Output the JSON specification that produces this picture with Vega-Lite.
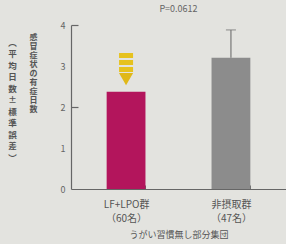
{
  "$schema": "https://vega.github.io/schema/vega-lite/v6.json",
  "width": 215,
  "height": 164,
  "autosize": {"type": "none"},
  "padding": {"left": 71, "top": 25, "right": 0, "bottom": 55},
  "background": "#e3e3df",
  "config": {"view": {"stroke": null}, "font": "Noto Sans CJK JP"},
  "title": {"text": "P=0.0612", "fontSize": 9, "fontWeight": "normal", "color": "#666666", "offset": 7, "anchor": "middle"},
  "data": {"values": [
    {"group": "LF+LPO群|（60名）", "mean": 2.37, "upper": null, "arrow_top": 3.32, "arrow_bottom": 2.85, "arrow_tip": 2.68},
    {"group": "非摂取群|（47名）", "mean": 3.2, "upper": 3.88, "arrow_top": null, "arrow_bottom": null, "arrow_tip": null}
  ]},
  "encoding": {
    "x": {
      "field": "group", "type": "nominal", "sort": null,
      "scale": {"paddingInner": 0.63, "paddingOuter": 0.34},
      "axis": {
        "title": "うがい習慣無し部分集団", "titleFontSize": 9, "titleFontWeight": "normal", "titleColor": "#555555", "titlePadding": 7,
        "labelAngle": 0, "labelExpr": "split(datum.label, '|')", "labelFontSize": 10, "labelColor": "#555555", "labelLineHeight": 14, "labelPadding": 14,
        "tickBand": "extent", "tickSize": -4, "tickColor": "#666666", "domainColor": "#666666", "domainWidth": 1.2
      }
    }
  },
  "layer": [
    {
      "mark": {"type": "bar"},
      "encoding": {
        "y": {
          "field": "mean", "type": "quantitative",
          "scale": {"domain": [0, 4], "nice": false},
          "axis": {
            "orient": "left",
            "values": [0, 1, 2, 3, 4], "ticks": false, "grid": false, "labelPadding": 6, "labelFontSize": 9, "labelColor": "#666666",
            "domainColor": "#666666", "domainWidth": 1.2,
            "title": ["感", "冒", "症", "状", "の", "有", "症", "日", "数"],
            "titleAngle": 0, "titleAlign": "center", "titleBaseline": "top", "titleX": -38, "titleY": 8,
            "titleFontSize": 8, "titleFontWeight": "bold", "titleColor": "#555555", "titleLineHeight": 9
          }
        },
        "color": {"field": "group", "type": "nominal", "sort": null, "scale": {"range": ["#b3155c", "#8c8c8c"]}, "legend": null}
      }
    },
    {
      "mark": {"type": "rule", "color": "#777777", "strokeWidth": 1.2},
      "encoding": {
        "y": {
          "field": "mean", "type": "quantitative",
          "axis": {
            "orient": "left", "offset": -7, "labels": false, "domain": false, "grid": false, "values": [2, 4], "ticks": true, "tickSize": 7, "tickColor": "#666666", "tickWidth": 1.2,
            "title": ["︵", "平", "均", "日", "数", "±", "標", "準", "誤", "差", "︶"],
            "titleAngle": 0, "titleAlign": "center", "titleBaseline": "top", "titleX": -66, "titleY": 13,
            "titleFontSize": 8.5, "titleFontWeight": "bold", "titleColor": "#555555", "titleLineHeight": 11.5
          }
        },
        "y2": {"field": "upper"}
      }
    },
    {
      "mark": {"type": "tick", "color": "#777777", "thickness": 1.2, "size": 10},
      "encoding": {"y": {"field": "upper", "type": "quantitative", "axis": null}}
    },
    {
      "mark": {"type": "rule", "color": "#e6c21e", "strokeWidth": 14, "strokeDash": [5, 2]},
      "encoding": {"y": {"field": "arrow_top", "type": "quantitative", "axis": null}, "y2": {"field": "arrow_bottom"}}
    },
    {
      "mark": {"type": "point", "shape": "triangle-down", "filled": true, "color": "#e0b818", "opacity": 1, "size": 200},
      "encoding": {"y": {"field": "arrow_tip", "type": "quantitative", "axis": null}}
    }
  ],
  "resolve": {"axis": {"y": "independent"}}
}
